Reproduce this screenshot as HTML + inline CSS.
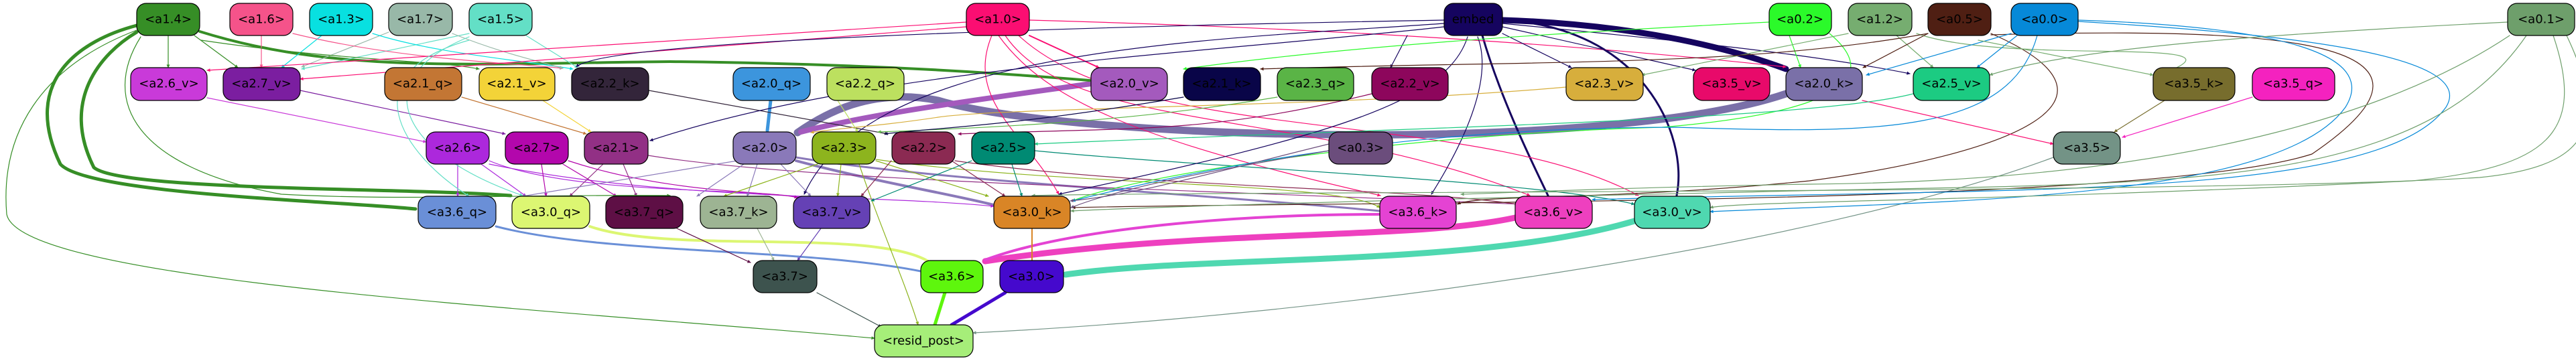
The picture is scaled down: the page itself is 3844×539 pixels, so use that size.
<!DOCTYPE html>
<html><head><meta charset="utf-8"><style>
html,body{margin:0;padding:0;background:#fff;}
svg{display:block;}
text{font-family:"DejaVu Sans","Liberation Sans",sans-serif;font-size:18px;text-anchor:middle;dominant-baseline:central;fill:#000;}
</style></head><body>
<svg width="3844" height="539" viewBox="0 0 3844 539" xmlns="http://www.w3.org/2000/svg">
<defs>
<marker id="m" viewBox="0 0 10 10" refX="9" refY="5" markerWidth="5" markerHeight="5" orient="auto" markerUnits="userSpaceOnUse" style="overflow:visible"><path d="M0,0L10,5L0,10z" fill="context-stroke"/></marker>
</defs>
<g fill="none" stroke-linecap="round">
<!-- thick edges -->
<path d="M2665,140 C2400,230 1600,210 1400,150 C1300,130 1230,170 1190,198" stroke="#7a70a8" stroke-width="11"/>
<path d="M1628,125 C1450,150 1300,170 1195,197" stroke="#a45abd" stroke-width="8"/>
<path d="M1150,150 L1145,195" stroke="#3c95dd" stroke-width="5"/>
<path d="M204,38 C120,60 30,120 90,245 C130,290 500,300 620,312" stroke="#368e26" stroke-width="5"/>
<path d="M204,48 C150,80 90,150 140,250 C180,285 600,280 762,292" stroke="#368e26" stroke-width="5"/>
<path d="M298,47 C500,110 700,95 1000,92 C1300,95 1500,110 1626,120" stroke="#368e26" stroke-width="4"/>
<path d="M2242,30 C2400,35 2550,60 2665,103" stroke="#15045f" stroke-width="9"/>
<path d="M2212,53 C2240,150 2290,250 2310,292" stroke="#15045f" stroke-width="3"/>
<path d="M2242,30 C2450,40 2520,200 2502,292" stroke="#15045f" stroke-width="3"/>
<path d="M2261,325 C2100,360 1800,340 1470,390" stroke="#ee40bf" stroke-width="9"/>
<path d="M2059,320 C1850,320 1600,340 1470,388" stroke="#e443d3" stroke-width="4"/>
<path d="M2439,330 C2200,400 1800,380 1590,410" stroke="#4fd8b0" stroke-width="9"/>
<path d="M1410,437 L1395,485" stroke="#5ef60d" stroke-width="5"/>
<path d="M1500,437 L1420,485" stroke="#4509cd" stroke-width="5"/>
<path d="M1540,341 L1540,389" stroke="#d98526" stroke-width="2"/>
<path d="M740,338 C900,380 1200,370 1374,405" stroke="#6a8fd7" stroke-width="3"/>
<path d="M880,338 C1000,380 1300,340 1385,390" stroke="#dcf672" stroke-width="4"/>
<path d="M1188,240 C1300,270 1420,290 1483,306" stroke="#8a79b9" stroke-width="4"/>
<path d="M1188,235 C1400,270 1800,290 2059,315" stroke="#8a79b9" stroke-width="3"/>
<!-- thin edges -->
<g stroke-width="1.2" marker-end="url(#m)">
<path d="M251,53 L251,101" stroke="#368e26"/>
<path d="M290,53 L355,101" stroke="#368e26"/>
<path d="M390,53 L390,101" stroke="#f5538a"/>
<path d="M480,53 L420,101" stroke="#08e0e0"/>
<path d="M580,48 L450,100" stroke="#98b8a8"/>
<path d="M700,50 L450,103" stroke="#63dfc6"/>
<path d="M785,53 L862,101" stroke="#63dfc6"/>
<path d="M556,50 C650,80 780,90 855,103" stroke="#08e0e0"/>
<path d="M437,50 C600,90 780,95 840,102" stroke="#f5538a"/>
<path d="M675,50 C750,80 800,90 840,102" stroke="#98b8a8"/>
<path d="M300,60 C500,90 650,90 715,103" stroke="#368e26"/>
<path d="M1442,33 L309,105" stroke="#fb0e72"/>
<path d="M1442,40 L448,118" stroke="#fb0e72"/>
<path d="M1536,53 L1640,101" stroke="#fb0e72" stroke-width="2"/>
<path d="M1480,53 C1440,150 1530,200 1580,290" stroke="#fb0e72"/>
<path d="M1490,53 C1560,150 1700,210 2060,292" stroke="#fb0e72"/>
<path d="M1500,53 C1600,200 1950,160 2283,292" stroke="#fb0e72"/>
<path d="M1520,53 C1700,220 2200,160 2445,292" stroke="#fb0e72"/>
<path d="M1536,30 C1900,40 2300,60 2665,100" stroke="#fb0e72"/>
<path d="M309,146 L636,212" stroke="#c93ad9"/>
<path d="M448,135 L754,200" stroke="#7b1ea0"/>
<path d="M689,145 L875,200" stroke="#c37634"/>
<path d="M810,150 L882,197" stroke="#f3d338"/>
<path d="M968,135 L1325,200" stroke="#33253a"/>
<path d="M683,245 L683,293" stroke="#ac28dc"/>
<path d="M718,245 L785,293" stroke="#ac28dc"/>
<path d="M730,240 C850,290 1100,280 1200,295" stroke="#ac28dc"/>
<path d="M730,245 C1000,300 1300,290 1483,308" stroke="#ac28dc"/>
<path d="M808,245 L815,293" stroke="#b307ac"/>
<path d="M840,245 L920,293" stroke="#b307ac"/>
<path d="M848,240 C1000,290 1150,285 1190,295" stroke="#b307ac"/>
<path d="M900,245 L850,293" stroke="#923085"/>
<path d="M930,245 L950,293" stroke="#923085"/>
<path d="M967,232 C1200,270 1700,280 2270,305" stroke="#923085"/>
<path d="M1110,245 L1040,293" stroke="#8a79b9"/>
<path d="M1130,245 L1115,293" stroke="#8a79b9"/>
<path d="M1165,245 L1210,293" stroke="#8a79b9"/>
<path d="M1100,240 L780,293" stroke="#8a79b9"/>
<path d="M1220,245 L1080,293" stroke="#8db41e"/>
<path d="M1255,245 L1250,293" stroke="#8db41e"/>
<path d="M1282,245 C1310,330 1350,420 1370,485" stroke="#8db41e"/>
<path d="M1307,240 L1475,293" stroke="#8db41e"/>
<path d="M1307,238 C1600,280 2000,270 2059,310" stroke="#8db41e"/>
<path d="M1330,240 L1285,293" stroke="#8b2a52"/>
<path d="M1420,240 L1500,293" stroke="#8b2a52"/>
<path d="M1425,240 C1700,280 2100,280 2265,305" stroke="#8b2a52"/>
<path d="M1450,240 L1300,300" stroke="#008a73"/>
<path d="M1510,245 L1525,293" stroke="#008a73"/>
<path d="M1544,225 C1800,250 2300,270 2439,305" stroke="#008a73"/>
<path d="M1130,341 L1155,389" stroke="#9db493"/>
<path d="M1225,341 L1190,389" stroke="#6541b5"/>
<path d="M1010,341 L1120,392" stroke="#5e0f45"/>
<path d="M1219,437 L1315,488" stroke="#3d534e"/>
<path d="M204,45 C60,100 0,200 10,320 C30,420 800,460 1305,505" stroke="#368e26"/>
<path d="M3064,235 C2700,370 2000,470 1452,497" stroke="#739386"/>
<path d="M2100,53 L2075,101" stroke="#15045f"/>
<path d="M2242,50 L2345,101" stroke="#15045f"/>
<path d="M2242,40 L2530,105" stroke="#15045f"/>
<path d="M2242,35 C2500,60 2700,80 2850,110" stroke="#15045f"/>
<path d="M2155,35 C1800,60 1300,70 1200,290" stroke="#15045f"/>
<path d="M2155,30 C1600,40 900,60 860,100" stroke="#15045f"/>
<path d="M2155,40 C1800,80 1300,100 970,210" stroke="#15045f"/>
<path d="M2190,55 C2160,150 2000,200 1580,290" stroke="#15045f"/>
<path d="M2205,55 C2230,120 2180,220 2136,290" stroke="#15045f"/>
<path d="M2640,33 C2300,50 2000,70 1766,103" stroke="#2bfa2a"/>
<path d="M2670,53 L2687,101" stroke="#2bfa2a"/>
<path d="M2730,50 C2850,150 2600,180 2480,190 C2100,200 1700,260 1600,300" stroke="#2bfa2a"/>
<path d="M2758,50 L2450,112" stroke="#76ad70"/>
<path d="M2830,53 L2885,101" stroke="#76ad70"/>
<path d="M2860,50 C3000,100 3400,50 3213,115" stroke="#76ad70"/>
<path d="M2877,50 C2600,100 2300,90 1881,103" stroke="#4f1f13"/>
<path d="M2877,50 L2780,101" stroke="#4f1f13"/>
<path d="M2971,50 C3200,150 3000,230 2700,270 C2400,300 2200,290 2175,305" stroke="#4f1f13"/>
<path d="M2971,52 C3400,40 3700,60 3450,230 C3200,310 2000,300 1600,310" stroke="#4f1f13"/>
<path d="M3001,50 L2785,112" stroke="#0689d8"/>
<path d="M3010,53 L2950,101" stroke="#0689d8"/>
<path d="M3040,53 C3000,200 2800,200 2500,190 C2100,190 1800,250 1600,300" stroke="#0689d8"/>
<path d="M3101,30 C3400,40 3550,80 3500,160 C3400,300 2900,300 2552,316" stroke="#0689d8"/>
<path d="M3101,32 C3400,50 3700,80 3650,160 C3550,300 3000,280 2376,298" stroke="#0689d8"/>
<path d="M3742,33 C3400,50 3100,70 2969,112" stroke="#6e9f6b"/>
<path d="M3745,53 C3600,150 3300,270 2700,275 C2400,280 2200,290 2180,290" stroke="#6e9f6b"/>
<path d="M3770,53 C3600,300 3200,270 2600,287 C2000,300 1700,310 1598,315" stroke="#6e9f6b"/>
<path d="M3810,53 C3860,200 3800,250 3600,270 C3000,300 2600,300 2552,310" stroke="#6e9f6b"/>
<path d="M3830,53 C3900,200 3850,250 3700,265 C3300,290 1800,285 1540,292" stroke="#6e9f6b"/>
<path d="M2779,150 L3064,215" stroke="#fb0e72"/>
<path d="M3230,150 L3155,197" stroke="#776d2d"/>
<path d="M3361,145 L3167,205" stroke="#f422bf"/>
<path d="M2952,60 L3213,112" stroke="#76ad70"/>
<path d="M2337,130 C2000,160 1500,160 1400,175 C1300,190 1260,190 1210,198" stroke="#d7ae3c"/>
<path d="M2047,140 C1800,200 1700,190 1430,200" stroke="#8d065c"/>
<path d="M1906,145 C1700,180 1500,190 1310,197" stroke="#5ab446"/>
<path d="M1766,145 C1500,190 1400,190 1320,200" stroke="#090548"/>
<path d="M2855,140 C2700,180 2100,190 1544,215" stroke="#1ccb82"/>
<path d="M1983,215 C1800,260 1700,290 1597,300" stroke="#6b4d7c"/>
<path d="M1983,225 C1900,240 1700,270 1598,310" stroke="#6b4d7c"/>
<path d="M1250,150 L1280,197" stroke="#bce05f"/>
<path d="M700,60 C520,110 600,230 700,293" stroke="#63dfc6"/>
<path d="M700,55 C540,120 600,230 780,292" stroke="#63dfc6"/>
<path d="M210,55 C150,150 200,250 420,290 C600,300 780,290 1000,292" stroke="#368e26"/>
</g>
</g>
<!-- nodes -->
<g stroke="#000" stroke-width="1.2">
<rect x="204" y="5" width="94" height="48" rx="14" fill="#368e26"/>
<rect x="343" y="5" width="94" height="48" rx="14" fill="#f5538a"/>
<rect x="462" y="5" width="94" height="48" rx="14" fill="#08e0e0"/>
<rect x="580" y="5" width="95" height="48" rx="14" fill="#98b8a8"/>
<rect x="700" y="5" width="94" height="48" rx="14" fill="#63dfc6"/>
<rect x="1442" y="5" width="94" height="48" rx="14" fill="#fb0e72"/>
<rect x="2155" y="5" width="87" height="48" rx="14" fill="#15045f"/>
<rect x="2640" y="5" width="93" height="48" rx="14" fill="#2bfa2a"/>
<rect x="2758" y="5" width="95" height="48" rx="14" fill="#76ad70"/>
<rect x="2877" y="5" width="94" height="48" rx="14" fill="#4f1f13"/>
<rect x="3001" y="5" width="100" height="48" rx="14" fill="#0689d8"/>
<rect x="3742" y="5" width="100" height="48" rx="14" fill="#6e9f6b"/>

<rect x="195" y="101" width="114" height="49" rx="14" fill="#c93ad9"/>
<rect x="333" y="101" width="115" height="49" rx="14" fill="#7b1ea0"/>
<rect x="574" y="101" width="115" height="49" rx="14" fill="#c37634"/>
<rect x="715" y="101" width="113" height="49" rx="14" fill="#f3d338"/>
<rect x="853" y="101" width="115" height="49" rx="14" fill="#33253a"/>
<rect x="1094" y="101" width="115" height="49" rx="14" fill="#3c95dd"/>
<rect x="1234" y="101" width="115" height="49" rx="14" fill="#bce05f"/>
<rect x="1628" y="101" width="114" height="49" rx="14" fill="#a45abd"/>
<rect x="1766" y="101" width="115" height="49" rx="14" fill="#090548"/>
<rect x="1906" y="101" width="114" height="49" rx="14" fill="#5ab446"/>
<rect x="2047" y="101" width="114" height="49" rx="14" fill="#8d065c"/>
<rect x="2337" y="101" width="115" height="49" rx="14" fill="#d7ae3c"/>
<rect x="2527" y="101" width="114" height="49" rx="14" fill="#e80a6a"/>
<rect x="2665" y="101" width="114" height="49" rx="14" fill="#7a70a8"/>
<rect x="2855" y="101" width="114" height="49" rx="14" fill="#1ccb82"/>
<rect x="3213" y="101" width="122" height="49" rx="14" fill="#776d2d"/>
<rect x="3361" y="101" width="123" height="49" rx="14" fill="#f422bf"/>

<rect x="636" y="197" width="94" height="48" rx="14" fill="#ac28dc"/>
<rect x="754" y="197" width="94" height="48" rx="14" fill="#b307ac"/>
<rect x="872" y="197" width="95" height="48" rx="14" fill="#923085"/>
<rect x="1094" y="197" width="94" height="48" rx="14" fill="#8a79b9"/>
<rect x="1212" y="197" width="95" height="48" rx="14" fill="#8db41e"/>
<rect x="1331" y="197" width="94" height="48" rx="14" fill="#8b2a52"/>
<rect x="1450" y="197" width="94" height="48" rx="14" fill="#008a73"/>
<rect x="1983" y="197" width="95" height="48" rx="14" fill="#6b4d7c"/>
<rect x="3064" y="197" width="100" height="48" rx="14" fill="#739386"/>

<rect x="624" y="293" width="116" height="48" rx="14" fill="#6a8fd7"/>
<rect x="764" y="293" width="116" height="48" rx="14" fill="#dcf672"/>
<rect x="904" y="293" width="115" height="48" rx="14" fill="#5e0f45"/>
<rect x="1045" y="293" width="114" height="48" rx="14" fill="#9db493"/>
<rect x="1184" y="293" width="114" height="48" rx="14" fill="#6541b5"/>
<rect x="1483" y="293" width="114" height="48" rx="14" fill="#d98526"/>
<rect x="2059" y="293" width="114" height="48" rx="14" fill="#e443d3"/>
<rect x="2261" y="293" width="115" height="48" rx="14" fill="#ee40bf"/>
<rect x="2439" y="293" width="113" height="48" rx="14" fill="#4fd8b0"/>

<rect x="1124" y="389" width="95" height="48" rx="14" fill="#3d534e"/>
<rect x="1374" y="389" width="93" height="48" rx="14" fill="#5ef60d"/>
<rect x="1492" y="389" width="95" height="48" rx="14" fill="#4509cd"/>

<rect x="1305" y="485" width="147" height="48" rx="14" fill="#a6ee79"/>
</g>
<g>
<text x="251" y="29">&lt;a1.4&gt;</text>
<text x="390" y="29">&lt;a1.6&gt;</text>
<text x="509" y="29">&lt;a1.3&gt;</text>
<text x="627" y="29">&lt;a1.7&gt;</text>
<text x="747" y="29">&lt;a1.5&gt;</text>
<text x="1489" y="29">&lt;a1.0&gt;</text>
<text x="2198" y="29">embed</text>
<text x="2686" y="29">&lt;a0.2&gt;</text>
<text x="2805" y="29">&lt;a1.2&gt;</text>
<text x="2924" y="29">&lt;a0.5&gt;</text>
<text x="3051" y="29">&lt;a0.0&gt;</text>
<text x="3792" y="29">&lt;a0.1&gt;</text>

<text x="252" y="125">&lt;a2.6_v&gt;</text>
<text x="390" y="125">&lt;a2.7_v&gt;</text>
<text x="631" y="125">&lt;a2.1_q&gt;</text>
<text x="771" y="125">&lt;a2.1_v&gt;</text>
<text x="910" y="125">&lt;a2.2_k&gt;</text>
<text x="1151" y="125">&lt;a2.0_q&gt;</text>
<text x="1291" y="125">&lt;a2.2_q&gt;</text>
<text x="1685" y="125">&lt;a2.0_v&gt;</text>
<text x="1823" y="125">&lt;a2.1_k&gt;</text>
<text x="1963" y="125">&lt;a2.3_q&gt;</text>
<text x="2104" y="125">&lt;a2.2_v&gt;</text>
<text x="2394" y="125">&lt;a2.3_v&gt;</text>
<text x="2584" y="125">&lt;a3.5_v&gt;</text>
<text x="2722" y="125">&lt;a2.0_k&gt;</text>
<text x="2912" y="125">&lt;a2.5_v&gt;</text>
<text x="3274" y="125">&lt;a3.5_k&gt;</text>
<text x="3422" y="125">&lt;a3.5_q&gt;</text>

<text x="683" y="221">&lt;a2.6&gt;</text>
<text x="801" y="221">&lt;a2.7&gt;</text>
<text x="919" y="221">&lt;a2.1&gt;</text>
<text x="1141" y="221">&lt;a2.0&gt;</text>
<text x="1259" y="221">&lt;a2.3&gt;</text>
<text x="1378" y="221">&lt;a2.2&gt;</text>
<text x="1497" y="221">&lt;a2.5&gt;</text>
<text x="2030" y="221">&lt;a0.3&gt;</text>
<text x="3114" y="221">&lt;a3.5&gt;</text>

<text x="682" y="317">&lt;a3.6_q&gt;</text>
<text x="822" y="317">&lt;a3.0_q&gt;</text>
<text x="961" y="317">&lt;a3.7_q&gt;</text>
<text x="1102" y="317">&lt;a3.7_k&gt;</text>
<text x="1241" y="317">&lt;a3.7_v&gt;</text>
<text x="1540" y="317">&lt;a3.0_k&gt;</text>
<text x="2116" y="317">&lt;a3.6_k&gt;</text>
<text x="2318" y="317">&lt;a3.6_v&gt;</text>
<text x="2495" y="317">&lt;a3.0_v&gt;</text>

<text x="1171" y="413">&lt;a3.7&gt;</text>
<text x="1420" y="413">&lt;a3.6&gt;</text>
<text x="1539" y="413">&lt;a3.0&gt;</text>

<text x="1378" y="509">&lt;resid_post&gt;</text>
</g>
</svg>
</body></html>
